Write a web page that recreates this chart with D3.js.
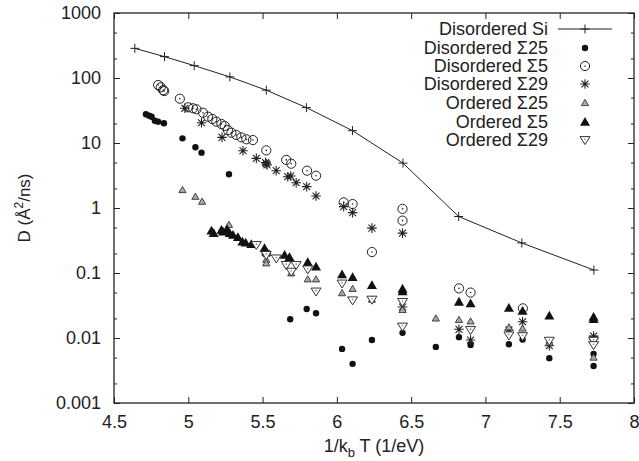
<!DOCTYPE html>
<html>
<head>
  <meta charset="utf-8">
  <style type="text/css">
    body { margin: 0; background: #fff; }
    text { font-family: "Liberation Sans", Arial, Helvetica, sans-serif; }
  </style>
  <script src="https://d3js.org/d3.v7.min.js"></script>
</head>
<body>
<div id="chart"></div>
<script type="text/javascript">
  // values: x = 1/kbT (1/eV), D in A^2/ns
  var siX   = [4.64, 4.84, 5.04, 5.28, 5.525, 5.795, 6.105, 6.445, 6.82, 7.245, 7.73];
  var siD   = [286, 213, 155, 104, 65, 35, 15.5, 4.9, 0.74, 0.29, 0.111];

  var dis25X = [4.715, 4.737, 4.753, 4.775, 4.797, 4.836, 4.961, 5.048, 5.089, 5.274, 5.686, 5.797, 5.86,
                6.035, 6.106, 6.236, 6.442, 6.666, 6.822, 6.9, 7.158, 7.25, 7.43, 7.728, 7.728];
  var dis25D = [27.7, 26.3, 25.4, 22, 21.3, 20.1, 11.8, 8.6, 7.1, 3.3, 0.0194, 0.028, 0.024,
                0.0068, 0.004, 0.0093, 0.012, 0.0073, 0.0103, 0.0078, 0.008, 0.0095, 0.0049, 0.0057, 0.0037];

  var dis5X = [4.797, 4.815, 4.831, 4.838, 4.943, 4.999, 5.032, 5.055, 5.099, 5.133, 5.162, 5.189, 5.223,
               5.245, 5.267, 5.29, 5.323, 5.357, 5.391, 5.435, 5.525, 5.659, 5.693, 5.799, 5.86,
               6.046, 6.106, 6.442, 6.442, 6.236, 6.822, 6.9, 7.252];
  var dis5D = [78, 72, 65, 63, 48, 35.4, 34.2, 33, 29.2, 25.4, 23.4, 21.3, 19.6,
               18.3, 15.8, 14.4, 13.3, 12.2, 11.4, 11.1, 7.7, 5.5, 4.8, 3.75, 3.14,
               1.22, 1.15, 0.97, 0.64, 0.21, 0.058, 0.05, 0.0286];

  var dis29X = [4.977, 5.089, 5.227, 5.368, 5.458, 5.52, 5.525, 5.53, 5.592, 5.67, 5.69, 5.726, 5.797,
                5.86, 6.046, 6.106, 6.236, 6.442, 5.525, 6.442, 6.822, 6.9, 7.158, 7.25, 7.43, 7.728, 7.728];
  var dis29D = [34.2, 20.5, 12.2, 7.6, 5.8, 5.0, 4.8, 4.6, 3.75, 3.03, 3.1, 2.45, 2.13,
                1.53, 1.05, 0.85, 0.49, 0.41, 0.2, 0.030, 0.0136, 0.0093, 0.0133, 0.0178, 0.0076, 0.0107, 0.0096];

  var ord25X = [4.961, 5.048, 5.093, 5.274, 5.525, 5.525, 5.693, 5.804, 5.86, 6.035, 6.106, 6.236,
                6.442, 6.666, 6.822, 6.9, 7.158, 7.25, 7.43, 7.728];
  var ord25D = [1.89, 1.49, 1.25, 0.55, 0.16, 0.141, 0.099, 0.08, 0.08, 0.049, 0.057, 0.039,
                0.027, 0.020, 0.019, 0.018, 0.0146, 0.014, 0.0085, 0.005];

  var ord5X = [5.156, 5.171, 5.223, 5.234, 5.26, 5.279, 5.301, 5.334, 5.364, 5.386, 5.424, 5.513, 5.525,
               5.648, 5.681, 5.804, 5.86, 6.035, 6.106, 6.236, 6.442, 6.442, 6.822, 6.9, 7.158, 7.25,
               7.43, 7.728, 7.728];
  var ord5D = [0.448, 0.408, 0.459, 0.432, 0.47, 0.408, 0.385, 0.354, 0.303, 0.292, 0.277, 0.24, 0.21,
               0.189, 0.175, 0.146, 0.125, 0.095, 0.086, 0.065, 0.057, 0.052, 0.036, 0.034, 0.029, 0.026,
               0.022, 0.0194, 0.021];

  var ord29X = [5.458, 5.525, 5.592, 5.659, 5.726, 5.693, 5.804, 5.86, 6.035, 6.106, 6.236, 6.442,
                6.442, 6.9, 7.158, 7.25, 7.43, 7.728, 7.728];
  var ord29D = [0.27, 0.19, 0.168, 0.133, 0.133, 0.105, 0.114, 0.052, 0.069, 0.038, 0.039, 0.036,
                0.015, 0.0133, 0.011, 0.0107, 0.0091, 0.0091, 0.0078];

  var xTicks = [4.5, 5, 5.5, 6, 6.5, 7, 7.5, 8];
  var yTicks = [0.001, 0.01, 0.1, 1, 10, 100, 1000];
  var yTickLabels = ["0.001", "0.01", "0.1", "1", "10", "100", "1000"];

  var legendNames = ["Disordered Si", "Disordered \u03A325", "Disordered \u03A35", "Disordered \u03A329",
                     "Ordered \u03A325", "Ordered \u03A35", "Ordered \u03A329"];

  function zip(xs, ys) {
    return xs.map(function(d, i) { return {x: d, y: ys[i]}; });
  }

  var W = 639, H = 461;
  // plot frame (window.top is read-only, so use own names)
  var pL = 114, pR = 634, pT = 13, pB = 403;

  var svg = d3.select("#chart").append("svg")
      .attr("width", W)
      .attr("height", H);

  var x = d3.scaleLinear().domain([4.5, 8]).range([pL, pR]);
  var y = d3.scaleLog().domain([0.001, 1000]).range([pB, pT]);

  // minor ticks at 2x and 5x on the log axis
  var minor = [];
  yTicks.slice(0, -1).forEach(function(t) { minor.push(t * 2, t * 5); });

  var fs = 18;

  // axes (gnuplot style: inward ticks, mirrored)
  svg.append("g").attr("transform", "translate(0," + pB + ")")
      .call(d3.axisBottom(x).tickValues(xTicks).tickSize(-6).tickPadding(12)
        .tickFormat(function(d) { return String(d); }));
  svg.append("g").attr("transform", "translate(0," + pT + ")")
      .call(d3.axisTop(x).tickValues(xTicks).tickSize(-6).tickFormat(""));

  svg.append("g").attr("transform", "translate(" + pL + ",0)")
      .call(d3.axisLeft(y).tickValues(yTicks).tickSize(-6).tickPadding(13)
        .tickFormat(function(d, i) { return yTickLabels[i]; }));
  svg.append("g").attr("transform", "translate(" + pR + ",0)")
      .call(d3.axisRight(y).tickValues(yTicks).tickSize(-6).tickFormat(""));
  svg.append("g").attr("transform", "translate(" + pL + ",0)")
      .call(d3.axisLeft(y).tickValues(minor).tickSize(-3).tickFormat(""));
  svg.append("g").attr("transform", "translate(" + pR + ",0)")
      .call(d3.axisRight(y).tickValues(minor).tickSize(-3).tickFormat(""));

  svg.selectAll(".domain").remove();
  svg.selectAll(".tick line").attr("stroke", "#222").attr("stroke-width", 1);
  svg.selectAll(".tick text").attr("font-size", fs).attr("fill", "#222")
      .attr("font-family", "'Liberation Sans', Arial, sans-serif");

  svg.append("rect")
      .attr("x", pL).attr("y", pT)
      .attr("width", pR - pL).attr("height", pB - pT)
      .attr("fill", "none").attr("stroke", "#222").attr("stroke-width", 1.3);

  // axis titles
  svg.append("text")
      .attr("transform", "translate(30," + ((pT + pB) / 2) + ") rotate(-90)")
      .attr("text-anchor", "middle")
      .attr("font-size", 17).attr("fill", "#222")
      .call(function(t) {
        t.append("tspan").text("D (\u00C5");
        t.append("tspan").attr("font-size", 12).attr("dy", -7).text("2");
        t.append("tspan").attr("dy", 7).text("/ns)");
      });

  svg.append("text")
      .attr("x", (pL + pR) / 2).attr("y", 452)
      .attr("text-anchor", "middle")
      .attr("font-size", fs).attr("fill", "#222")
      .call(function(t) {
        t.append("tspan").text("1/k");
        t.append("tspan").attr("font-size", 13).attr("dy", 5).text("b");
        t.append("tspan").attr("dy", -5).text(" T (1/eV)");
      });

  // marker drawing
  function plus(g, s) {
    g.append("path").attr("d", "M" + (-s) + ",0H" + s + "M0," + (-s) + "V" + s)
      .attr("stroke", "#222").attr("stroke-width", 1).attr("fill", "none");
  }
  function dot(g) {
    g.append("circle").attr("r", 3.2).attr("fill", "#111");
  }
  function ring(g) {
    g.append("circle").attr("r", 4.6).attr("fill", "none").attr("stroke", "#222").attr("stroke-width", 1);
    g.append("circle").attr("r", 0.8).attr("fill", "#222");
  }
  function star(g) {
    var s = 4.8, d = s * 0.72;
    g.append("path")
      .attr("d", "M" + (-s) + ",0H" + s + "M0," + (-s) + "V" + s +
                 "M" + (-d) + "," + (-d) + "L" + d + "," + d + "M" + (-d) + "," + d + "L" + d + "," + (-d))
      .attr("stroke", "#222").attr("stroke-width", 1.1).attr("fill", "none");
  }
  function triSmall(g) {
    g.append("path").attr("d", "M0,-3.6L3.6,2.6L-3.6,2.6Z")
      .attr("fill", "#aaa").attr("stroke", "#333").attr("stroke-width", 0.9);
  }
  function triFilled(g) {
    g.append("path").attr("d", "M0,-5L5,3.8L-5,3.8Z").attr("fill", "#111");
  }
  function triDown(g) {
    g.append("path").attr("d", "M0,4.6L5,-3.4L-5,-3.4Z")
      .attr("fill", "#fff").attr("stroke", "#333").attr("stroke-width", 1);
    g.append("circle").attr("r", 0.8).attr("cy", -0.8).attr("fill", "#777");
  }

  function scatter(data, marker) {
    svg.append("g").selectAll("g").data(data).enter().append("g")
        .attr("transform", function(d) { return "translate(" + x(d.x) + "," + y(d.y) + ")"; })
        .each(function() { marker(d3.select(this)); });
  }

  var siData = zip(siX, siD);
  var line = d3.line().x(function(d) { return x(d.x); }).y(function(d) { return y(d.y); });
  svg.append("path").datum(siData).attr("d", line)
      .attr("fill", "none").attr("stroke", "#222").attr("stroke-width", 1);
  scatter(siData, function(g) { plus(g, 4.5); });

  scatter(zip(dis25X, dis25D), dot);
  scatter(zip(dis5X, dis5D), ring);
  scatter(zip(dis29X, dis29D), star);
  scatter(zip(ord25X, ord25D), triSmall);
  scatter(zip(ord5X, ord5D), triFilled);
  scatter(zip(ord29X, ord29D), triDown);

  // legend
  var legendY = [29, 48, 66, 84, 103, 122, 140];
  var legendMarks = [null, dot, ring, star, triSmall, triFilled, triDown];
  legendNames.forEach(function(name, i) {
    svg.append("text")
        .attr("x", 548).attr("y", legendY[i]).attr("dy", "0.35em")
        .attr("text-anchor", "end").attr("font-size", fs).attr("fill", "#222")
        .text(name);
    var g = svg.append("g").attr("transform", "translate(585," + legendY[i] + ")");
    if (i === 0) {
      g.append("line").attr("x1", -27).attr("x2", 27).attr("stroke", "#222").attr("stroke-width", 1);
      plus(g, 4.5);
    } else {
      legendMarks[i](g);
    }
  });
</script>
</body>
</html>
